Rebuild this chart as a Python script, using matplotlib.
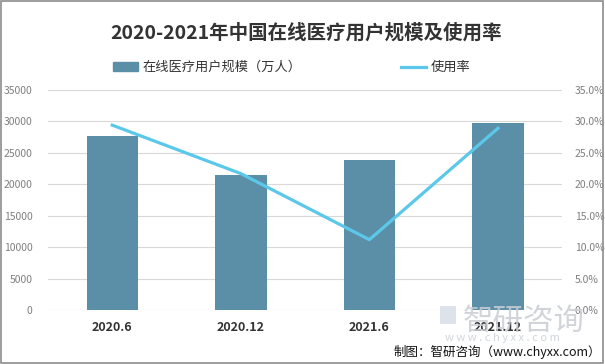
import matplotlib.pyplot as plt
import numpy as np
from matplotlib.patches import Rectangle, Patch
from matplotlib.lines import Line2D

plt.rcParams['font.family'] = ['Noto Sans CJK SC', 'DejaVu Sans']

# data
periods = ['2020.6', '2020.12', '2021.6', '2021.12']
users = [27602, 21480, 23933, 29788]        # 万人
usage_rate = [29.4, 21.7, 11.2, 28.9]        # %

fig = plt.figure(figsize=(6.05, 3.64), dpi=100)
ax = fig.add_axes([0.0793, 0.148, 0.850, 0.605])
ax2 = ax.twinx()

x = np.arange(len(periods))
ax.bar(x, users, width=0.4, color='#5b8fa8', zorder=2)
ax2.plot(x, usage_rate, color='#5bc8ea', linewidth=2.3, zorder=3)

ax.set_xlim(-0.5, 3.5)
ax.set_ylim(0, 35000)
ax2.set_ylim(0, 35)
ax.set_yticks(np.arange(0, 35001, 5000))
ax2.set_yticks(np.arange(0, 35.1, 5))
ax2.set_yticklabels(['%.1f%%' % v for v in np.arange(0, 35.1, 5)])

ax.set_xticks(x)
ax.set_xticklabels(periods, fontweight='bold', fontsize=9, color='#333333')
ax.grid(axis='y', color='#d9d9d9', linewidth=0.8, zorder=0)
ax.set_axisbelow(True)

for a in (ax, ax2):
    for s in a.spines.values():
        s.set_visible(False)
ax.tick_params(axis='y', length=0, pad=11, labelsize=7.5, labelcolor='#7f7f7f')
ax2.tick_params(axis='y', length=0, pad=9, labelsize=7.5, labelcolor='#7f7f7f')
ax.tick_params(axis='x', length=0, pad=8)

# title
fig.text(0.506, 0.91, '2020-2021年中国在线医疗用户规模及使用率', ha='center', va='center',
         fontsize=14, fontweight='bold', color='#333333')

# legend
handles = [Patch(color='#5b8fa8'), Line2D([0], [0], color='#5bc8ea', linewidth=2.3)]
fig.legend(handles, ['在线医疗用户规模（万人）', '使用率'], ncol=2, frameon=False,
           loc='center left', bbox_to_anchor=(0.176, 0.814), fontsize=9.5,
           handlelength=1.9, handleheight=0.7, columnspacing=7.6, handletextpad=0.3,
           labelcolor='#333333', borderpad=0)

# watermark
fig.text(0.865, 0.118, '智研咨询', ha='center', va='center', fontsize=22,
         color='#c9ced4', alpha=0.85, zorder=5)
fig.text(0.83, 0.072, 'w w w . c h y x x . c o m', ha='center', va='center', fontsize=8,
         color='#c9ced4', alpha=0.85, zorder=5)
fig.patches.append(Rectangle((0.728, 0.11), 0.025, 0.05, transform=fig.transFigure,
                             facecolor='#d5dce5', edgecolor='none', alpha=0.8, zorder=5))

# source
fig.text(0.993, 0.033, '制图：智研咨询（www.chyxx.com）', ha='right', va='center',
         fontsize=9, color='#111111')

# border
fig.patches.append(Rectangle((0.002, 0.004), 0.994, 0.993, transform=fig.transFigure,
                             fill=False, edgecolor='#8c8c8c', linewidth=1.2))

fig.savefig('out.png', dpi=100)
